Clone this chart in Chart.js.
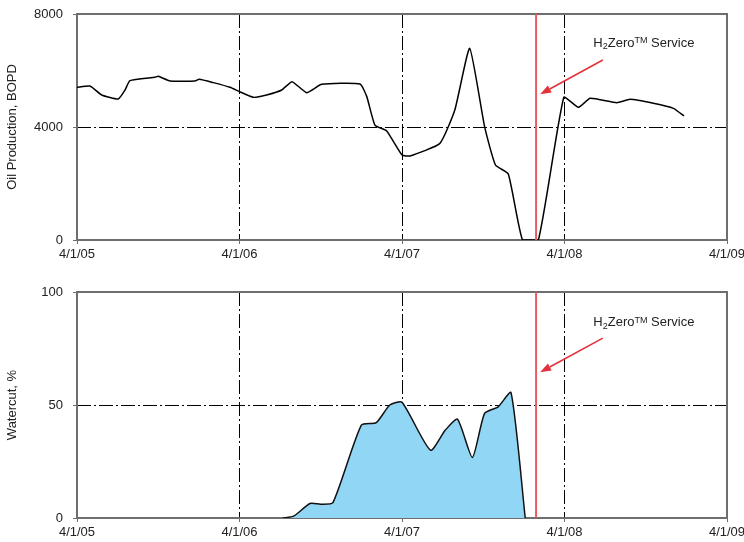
<!DOCTYPE html>
<html><head><meta charset="utf-8">
<script src="https://cdn.jsdelivr.net/npm/chart.js@4.4.0/dist/chart.umd.min.js"></script>
<style>
html,body{margin:0;padding:0;background:#fff;}
#wrap{position:relative;width:744px;height:542px;overflow:hidden;}
canvas{position:absolute;left:0;}
</style></head><body>
<div id="wrap">
<canvas id="oil" width="744" height="270" style="top:0"></canvas>
<canvas id="wc" width="744" height="272" style="top:270px"></canvas>
</div>
<script>
// ---- data (x = months since 4/1/05) ----
const xTickLabels = ['4/1/05','4/1/06','4/1/07','4/1/08','4/1/09'];
const oilMonths = [0, 0.96, 1.82, 3.05, 3.55, 3.91, 5.76, 6.0, 6.87, 8.71, 9.03, 10.07, 11.3, 12, 13.02, 14, 15.12, 15.88, 16.96, 18.07, 20.9, 21.4, 22, 22.87, 24, 24.6, 26.8, 27.9, 29, 30.1, 30.9, 31.85, 32.9, 34.07, 35.95, 37.02, 37.9, 39.86, 40.84, 42.56, 44.04, 44.83];
const oilBOPD = [5405, 5450, 5133, 4991, 5310, 5640, 5760, 5795, 5628, 5628, 5690, 5570, 5405, 5250, 5050, 5133, 5310, 5605, 5215, 5510, 5520, 5075, 4070, 3860, 3010, 2974, 3420, 4600, 6786, 4011, 2655, 2336, 0, 0, 5050, 4697, 5016, 4861, 4980, 4838, 4660, 4390];
const wcMonths = [15.2, 16, 17.2, 18, 18.9, 21, 22.1, 23.1, 24, 26.1, 27.2, 28.1, 29.2, 30.1, 31.1, 32.05, 33.1];
const watercutPct = [0, 0.8, 6.4, 6.1, 6.8, 41.1, 42.2, 50, 51.2, 30, 38.9, 43.7, 26.8, 46.3, 49.2, 55.5, 0];
const serviceMonth = 33.9;
const oilYTicks = [0, 4000, 8000];
const wcYTicks = [0, 50, 100];
const oilTitle = 'Oil Production, BOPD';
const wcTitle = 'Watercut, %';

const FONT = '"Liberation Sans", Arial, Helvetica, sans-serif';
const TXT = '#222';
const FRAME = '#6e6e6e';
const RED = '#ec5a61';
const ARROW = '#e2333c';
const DASH = [14, 3, 2, 3];

const pts = (xs, ys) => xs.map((m, i) => ({x: m, y: ys[i]}));

const frame = {
  id: 'frame',
  beforeDatasetsDraw(chart) {
    const {ctx, chartArea: a} = chart;
    ctx.save();
    ctx.strokeStyle = FRAME;
    ctx.lineWidth = 2;
    ctx.strokeRect(a.left, a.top, a.right - a.left, a.bottom - a.top);
    ctx.restore();
  }
};

const annot = {
  id: 'annot',
  afterDatasetsDraw(chart, args, o) {
    const {ctx, scales: {x, y}} = chart;
    ctx.save();
    let cx = x.getPixelForValue(o.textX);
    const ty = y.getPixelForValue(o.textY);
    ctx.fillStyle = TXT;
    ctx.textBaseline = 'middle';
    ctx.textAlign = 'left';
    const big = '13px ' + FONT, small = '9px ' + FONT;
    ctx.font = big; ctx.fillText('H', cx, ty); cx += ctx.measureText('H').width;
    ctx.font = small; ctx.fillText('2', cx, ty + 4); cx += ctx.measureText('2').width;
    ctx.font = big; ctx.fillText('Zero', cx, ty); cx += ctx.measureText('Zero').width;
    ctx.font = small; ctx.fillText('TM', cx, ty - 2); cx += ctx.measureText('TM').width;
    ctx.font = big; ctx.fillText(' Service', cx, ty);
    const x1 = x.getPixelForValue(o.tailX), y1 = y.getPixelForValue(o.tailY);
    const x2 = x.getPixelForValue(o.tipX), y2 = y.getPixelForValue(o.tipY);
    const ang = Math.atan2(y2 - y1, x2 - x1);
    const L = 11, W = 4;
    const bx = x2 - L * Math.cos(ang), by = y2 - L * Math.sin(ang);
    ctx.strokeStyle = ARROW; ctx.fillStyle = ARROW; ctx.lineWidth = 1.6;
    ctx.beginPath(); ctx.moveTo(x1, y1); ctx.lineTo(bx, by); ctx.stroke();
    ctx.beginPath();
    ctx.moveTo(x2, y2);
    ctx.lineTo(bx + W * Math.sin(ang), by - W * Math.cos(ang));
    ctx.lineTo(bx - W * Math.sin(ang), by + W * Math.cos(ang));
    ctx.closePath(); ctx.fill();
    ctx.restore();
  }
};

function xScale(height) {
  return {
    type: 'linear', min: 0, max: 48,
    afterFit(s) { s.height = height; s.paddingLeft = 0; s.paddingRight = 0; },
    border: {display: false, dash: DASH},
    grid: {
      color: c => (c.tick && (c.tick.value === 0 || c.tick.value === 48)) ? 'rgba(0,0,0,0)' : '#000',
      tickColor: FRAME, tickLength: 4, lineWidth: 1
    },
    ticks: {
      stepSize: 12, autoSkip: false, maxRotation: 0, padding: 3,
      color: TXT, font: {family: FONT, size: 13},
      callback: v => xTickLabels[Math.round(v / 12)]
    }
  };
}
function yScale(ticksArr, title) {
  const max = ticksArr[ticksArr.length - 1];
  return {
    type: 'linear', min: 0, max: max,
    afterFit(s) { s.width = 77; s.paddingTop = 0; s.paddingBottom = 0; },
    border: {display: false, dash: DASH},
    grid: {
      color: c => (c.tick && (c.tick.value === 0 || c.tick.value === max)) ? 'rgba(0,0,0,0)' : '#000',
      tickColor: FRAME, tickLength: 4, lineWidth: 1
    },
    afterBuildTicks(s) { s.ticks = ticksArr.map(v => ({value: v})); },
    ticks: {
      padding: 10, color: TXT, font: {family: FONT, size: 13},
      callback: v => String(v)
    },
    title: {display: true, text: title, color: TXT, font: {family: FONT, size: 13}, padding: {top: 5, bottom: 0}}
  };
}

const common = {
  responsive: false, animation: false, devicePixelRatio: 1,
  plugins: {legend: {display: false}, tooltip: {enabled: false}},
  elements: {point: {radius: 0}}
};

new Chart(document.getElementById('oil'), {
  type: 'line',
  data: {datasets: [
    {data: pts(oilMonths, oilBOPD), borderColor: '#000', borderWidth: 1.5, tension: 0.15, fill: false, order: 2},
    {data: [{x: serviceMonth, y: 0}, {x: serviceMonth, y: 8000}], borderColor: RED, borderWidth: 2, tension: 0, order: 1}
  ]},
  options: Object.assign({}, common, {
    layout: {padding: {top: 14, right: 17, left: 0, bottom: 0}},
    scales: {x: xScale(30), y: yScale(oilYTicks, oilTitle)},
    plugins: Object.assign({}, common.plugins, {
      annot: {textX: 38.13, textY: 6974, tailX: 38.83, tailY: 6372, tipX: 34.2, tipY: 5158}
    })
  }),
  plugins: [frame, annot]
});

new Chart(document.getElementById('wc'), {
  type: 'line',
  data: {datasets: [
    {data: pts(wcMonths, watercutPct), borderColor: '#111', borderWidth: 1.5, tension: 0.2,
     fill: 'origin', backgroundColor: '#92d6f5', order: 2},
    {data: [{x: serviceMonth, y: 0}, {x: serviceMonth, y: 100}], borderColor: RED, borderWidth: 2, tension: 0, order: 1}
  ]},
  options: Object.assign({}, common, {
    layout: {padding: {top: 22, right: 17, left: 0, bottom: 0}},
    scales: {x: xScale(24), y: yScale(wcYTicks, wcTitle)},
    plugins: Object.assign({}, common.plugins, {
      annot: {textX: 38.13, textY: 86.6, tailX: 38.83, tailY: 79.6, tipX: 34.2, tipY: 64.5}
    })
  }),
  plugins: [frame, annot]
});
</script>
</body></html>
